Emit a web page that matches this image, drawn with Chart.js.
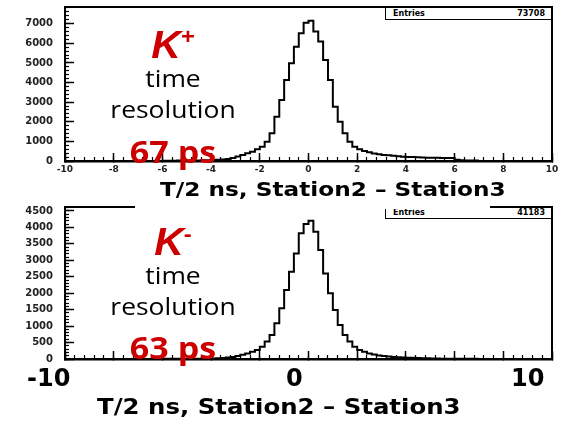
<!DOCTYPE html>
<html>
<head>
<meta charset="utf-8">
<script src="https://cdn.jsdelivr.net/npm/chart.js@4.4.1/dist/chart.umd.min.js"></script>
<style>
  html, body { margin: 0; padding: 0; background: #fff; }
  #wrap { position: relative; width: 561px; height: 422px; overflow: hidden; }
  canvas { position: absolute; left: 0; }
  .t { position: absolute; white-space: nowrap; line-height: 1; transform-origin: 0 50%; }
  .col { position: absolute; left: 73px; width: 200px; text-align: center; white-space: nowrap; line-height: 1; }
  .red { color: #cc0000; font-family: 'Open Sans'; font-weight: bold; font-size: 31px; transform: scaleX(1.1); }
  .kk { color: #cc0000; font-family: 'Liberation Sans'; font-weight: bold; font-style: italic; font-size: 38px; transform: scaleX(1.08); }
  .kk sup { font-size: 22px; vertical-align: 14px; font-style: normal; }
  .blk { color: #000; font-family: 'Open Sans'; font-size: 23px; transform: scaleX(1.15); }
  .ttl { font-family: 'DejaVu Sans'; font-weight: bold; color: #000; }
  .big { font-family: 'DejaVu Sans'; font-weight: bold; font-size: 24px; color: #000; }
  .stat { position: absolute; border: 1.5px solid #000; background: #fff; box-sizing: border-box;
          font-family: 'DejaVu Sans'; font-weight: bold; font-size: 8px; line-height: 9px; }
</style>
</head>
<body>
<div id="wrap">
  <canvas id="cTop" width="561" height="200" style="top:0"></canvas>
  <canvas id="cBot" width="561" height="222" style="top:200px"></canvas>

  <div class="stat" style="left:385px;top:7px;width:167px;height:13px">
    <span style="position:absolute;left:7px;top:1px">Entries</span>
    <span style="position:absolute;right:6px;top:1px">73708</span>
  </div>
  <div class="stat" style="left:385px;top:207px;width:167px;height:12px">
    <span style="position:absolute;left:7px;top:0px">Entries</span>
    <span style="position:absolute;right:6px;top:0px">41183</span>
  </div>

  <!-- K+ labels -->
  <div class="col kk" style="top:26px">K<sup>+</sup></div>
  <div class="col blk" style="top:67px">time</div>
  <div class="col blk" style="top:98px">resolution</div>
  <div class="col red" style="top:136px">67 ps</div>

  <!-- K- labels -->
  <div class="col kk" style="top:223px">K<sup>-</sup></div>
  <div class="col blk" style="top:264px">time</div>
  <div class="col blk" style="top:295px">resolution</div>
  <div class="col red" style="top:332px">63 ps</div>

  <div class="t" style="left:135px;top:172px;width:355px;height:37px;background:#fff"></div>
  <div class="t ttl" style="left:160px;top:179px;font-size:20px;transform:scaleX(1.16)">T/2 ns, Station2 – Station3</div>
  <div class="t big" style="left:27px;top:366px">-10</div>
  <div class="t big" style="left:286px;top:366px">0</div>
  <div class="t big" style="left:511px;top:366px">10</div>
  <div class="t ttl" style="left:97px;top:397px;font-size:20.5px;transform:scaleX(1.19)">T/2 ns, Station2 – Station3</div>
</div>

<script>
// histogram bins: 0.2 ns wide, x range -10 .. 10
var binWidth = 0.2
var xMin = -10
var xMax = 10

// K+ : first bin starts at -6.0
var kPlusStart = -6.0
var kPlusCounts = [
  15, 15, 18, 20, 22, 25, 28, 30, 35, 40,
  45, 60, 80, 100, 150, 230, 300, 390, 475, 595,
  730, 985, 1410, 2260, 3110, 4130, 4980, 5830, 6510, 7050,
  7150, 6600, 6090, 5150, 4130, 2770, 2000, 1410, 985, 730,
  595, 510, 440, 380, 340, 310, 290, 270, 240, 220,
  210, 200, 190, 180, 170, 165, 160, 155, 150, 150,
  60, 40, 30, 25, 20
]
var kPlusYMax = 7850
var kPlusYStep = 1000
var kPlusYMinor = 200

// K- : first bin starts at -6.0
var kMinusStart = -6.0
var kMinusCounts = [
  5, 5, 6, 7, 8, 9, 10, 10, 12, 13,
  15, 20, 30, 45, 60, 90, 130, 170, 220, 275,
  375, 530, 730, 1085, 1540, 2100, 2650, 3210, 3820, 4100,
  4200, 3870, 3310, 2600, 2000, 1490, 1030, 730, 530, 375,
  275, 220, 170, 140, 110, 90, 75, 60, 50, 45,
  40, 35, 30, 25, 20, 15, 12, 10, 9, 8,
  7, 6, 5, 5, 5
]
var kMinusYMax = 4620
var kMinusYStep = 500
var kMinusYMinor = 100

var xMajorStep = 2
var xMinorStep = 0.4

function histPoints(start, counts) {
  var pts = []
  for (var i = 0; i < counts.length; i++) {
    pts.push({x: start + i * binWidth, y: counts[i]})
  }
  // close the last bin at its right edge
  pts.push({x: start + counts.length * binWidth, y: counts[counts.length - 1]})
  return pts
}

var tickFont = {family: 'DejaVu Sans', size: 10, weight: 'bold'}

function isMajor(v, step) {
  return Math.abs(v / step - Math.round(v / step)) < 1e-6
}

function panel(id, start, counts, yMax, yStep, yMinor, showXLabels, xAxisHeight) {
  var ctx = document.getElementById(id).getContext('2d')
  return new Chart(ctx, {
    type: 'line',
    data: {
      datasets: [{
        data: histPoints(start, counts),
        xAxisID: 'x',
        yAxisID: 'y',
        stepped: true,
        borderColor: '#000',
        borderWidth: 2,
        pointRadius: 0,
        fill: false
      }]
    },
    options: {
      responsive: false,
      animation: false,
      events: [],
      layout: {padding: {top: 7, right: 9, left: 0, bottom: 0}},
      plugins: {legend: {display: false}, tooltip: {enabled: false}},
      scales: {
        x: {
          type: 'linear', axis: 'x', position: 'bottom', min: xMin, max: xMax,
          ticks: {stepSize: xMajorStep, display: showXLabels,
                  font: {family: 'DejaVu Sans', size: 9, weight: 'bold'}, color: '#222',
                  padding: 11, maxRotation: 0, autoSkip: false,
                  callback: function (v) { return String(v) }},
          grid: {drawOnChartArea: false, tickLength: -8, color: '#000', tickWidth: 1.5},
          border: {color: '#000', width: 2.5},
          afterFit: function (s) { s.height = xAxisHeight; s.paddingLeft = 0; s.paddingRight = 0 }
        },
        xMinor: {
          type: 'linear', axis: 'x', position: {y: 0}, min: xMin, max: xMax,
          ticks: {stepSize: xMinorStep, display: false, autoSkip: false},
          grid: {drawOnChartArea: false, tickLength: -4, color: '#000', tickWidth: 1.2},
          border: {display: false},
          afterFit: function (s) { s.height = 0; s.paddingLeft = 0; s.paddingRight = 0 }
        },
        xTop: {
          type: 'linear', axis: 'x', position: 'top', min: xMin, max: xMax,
          ticks: {display: false},
          grid: {display: false},
          border: {color: '#000', width: 2},
          afterFit: function (s) { s.height = 0; s.paddingLeft = 0; s.paddingRight = 0 }
        },
        y: {
          type: 'linear', axis: 'y', position: 'left', min: 0, max: yMax,
          ticks: {stepSize: yMinor, font: tickFont, color: '#222', padding: 21, autoSkip: false,
                  callback: function (v) { return isMajor(v, yStep) ? String(v) : '' }},
          grid: {drawOnChartArea: false, tickLength: -9, color: '#000', tickWidth: 1.5,
                 tickColor: function (c) { return c.tick && isMajor(c.tick.value, yStep) ? '#000' : 'rgba(0,0,0,0)' }},
          border: {color: '#000', width: 2},
          afterFit: function (s) { s.width = 65; s.paddingTop = 0; s.paddingBottom = 0 }
        },
        yMinor: {
          type: 'linear', axis: 'y', position: {x: xMin}, min: 0, max: yMax,
          ticks: {stepSize: yMinor, display: false, autoSkip: false},
          grid: {drawOnChartArea: false, tickLength: -4, color: '#000', tickWidth: 1.2},
          border: {display: false},
          afterFit: function (s) { s.width = 0; s.paddingTop = 0; s.paddingBottom = 0 }
        },
        yRight: {
          type: 'linear', axis: 'y', position: 'right', min: 0, max: yMax,
          ticks: {display: false},
          grid: {display: false},
          border: {color: '#000', width: 2},
          afterFit: function (s) { s.width = 0; s.paddingTop = 0; s.paddingBottom = 0 }
        }
      }
    }
  })
}

panel('cTop', kPlusStart, kPlusCounts, kPlusYMax, kPlusYStep, kPlusYMinor, true, 39)
panel('cBot', kMinusStart, kMinusCounts, kMinusYMax, kMinusYStep, kMinusYMinor, false, 63)
</script>
</body>
</html>
